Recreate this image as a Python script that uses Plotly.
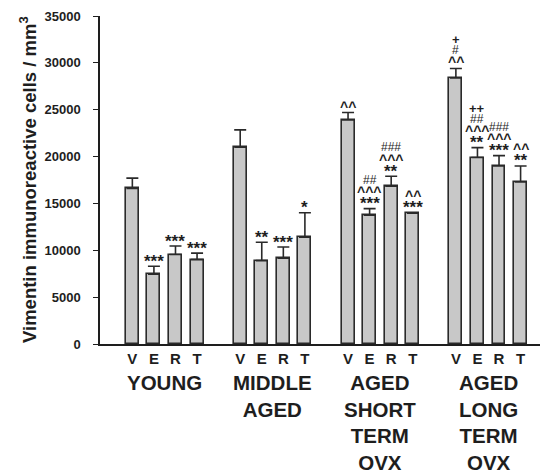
import plotly.graph_objects as go

# Age groups and treatments (V = vehicle, E, R, T)
groups = ["YOUNG", "MIDDLE<br>AGED", "AGED<br>SHORT<br>TERM<br>OVX", "AGED<br>LONG<br>TERM<br>OVX"]
treatments = ["V", "E", "R", "T"]

# Vimentin immunoreactive cells / mm^3 (mean and SEM)
mean_young = [16600, 7450, 9550, 9000]
mean_middle = [21000, 8900, 9150, 11400]
mean_short = [23900, 13750, 16850, 13950]
mean_long = [28400, 19900, 19000, 17300]

sem_young = [1100, 850, 900, 700]
sem_middle = [1850, 1950, 1200, 2600]
sem_short = [800, 700, 1050, 60]
sem_long = [1000, 1050, 1100, 1700]

# Significance marks per bar, listed bottom to top
marks_young = [[], ["***"], ["***"], ["***"]]
marks_middle = [[], ["**"], ["***"], ["*"]]
marks_short = [["^^"], ["***", "^^^", "##"], ["**", "^^^", "###"], ["***", "^^"]]
marks_long = [["^^", "#", "+"], ["**", "^^^", "##", "++"], ["***", "^^^", "###"], ["**", "^^"]]

means = [mean_young, mean_middle, mean_short, mean_long]
sems = [sem_young, sem_middle, sem_short, sem_long]
marks = [marks_young, marks_middle, marks_short, marks_long]

FONT = "Liberation Sans, Arial, sans-serif"
INK = "#1e1e1e"

# bar positions: four bars per group, one empty slot between groups
xs, ys, es, labels, mk = [], [], [], [], []
centers = []
for g in range(len(groups)):
    base = g * (len(treatments) + 1)
    centers.append(base + (len(treatments) - 1) / 2)
    for t in range(len(treatments)):
        xs.append(base + t)
        ys.append(means[g][t])
        es.append(sems[g][t])
        labels.append(treatments[t])
        mk.append(marks[g][t])

fig = go.Figure()
fig.add_trace(go.Bar(
    x=xs, y=ys, width=0.6,
    marker=dict(color="#c8c8c8", line=dict(color="#2a2a2a", width=1.6)),
    error_y=dict(type="data", symmetric=False, array=es, arrayminus=[0] * len(es),
                 color="#2a2a2a", thickness=1.6, width=6),
    hoverinfo="skip",
))

# style for each kind of significance symbol: size, weight, vertical nudge
sym_style = {
    "*": dict(size=17, weight="bold", nudge=-3),
    "^": dict(size=14, weight="bold", nudge=-2),
    "#": dict(size=12, weight="normal", nudge=0),
    "+": dict(size=13, weight="bold", nudge=0),
}
row_gap = 10.5
first_row = 8

annotations = []
for x, y, e, rows in zip(xs, ys, es, mk):
    for i, s in enumerate(rows):
        st = sym_style[s[0]]
        annotations.append(dict(
            x=x, y=y + e, xref="x", yref="y", text=s, showarrow=False,
            xanchor="center", yanchor="middle",
            yshift=first_row + i * row_gap + st["nudge"],
            font=dict(family=FONT, size=st["size"], color=INK, weight=st["weight"]),
        ))

for c, name in zip(centers, groups):
    annotations.append(dict(
        x=c, y=0, xref="x", yref="paper", text=name, showarrow=False,
        xanchor="center", yanchor="top", yshift=-25, align="center",
        font=dict(family=FONT, size=20.5, color=INK, weight="bold"),
    ))

annotations.append(dict(
    x=0, y=0.5, xref="paper", yref="paper", xshift=-72,
    text="Vimentin immunoreactive cells / mm<sup>3</sup>", textangle=-90,
    showarrow=False, xanchor="center", yanchor="middle",
    font=dict(family=FONT, size=18.5, color=INK, weight="bold"),
))

fig.update_layout(
    width=548, height=474,
    margin=dict(l=100, r=8, t=16, b=130),
    paper_bgcolor="white", plot_bgcolor="white",
    showlegend=False,
    bargap=0,
    annotations=annotations,
    xaxis=dict(
        range=[-1.5, 18.9], tickvals=xs, ticktext=labels,
        showline=True, linecolor=INK, linewidth=1.5, ticks="",
        showgrid=False, zeroline=False,
        tickfont=dict(family=FONT, size=15, color=INK, weight="bold"),
    ),
    yaxis=dict(
        range=[0, 35000], tickvals=list(range(0, 35001, 5000)), tickformat="d",
        showline=True, linecolor=INK, linewidth=1.5,
        ticks="outside", ticklen=5, tickwidth=1.2, tickcolor=INK,
        ticklabelstandoff=10,
        showgrid=False, zeroline=False,
        tickfont=dict(family=FONT, size=13, color=INK, weight="bold"),
    ),
)

fig.write_html("out.html")
